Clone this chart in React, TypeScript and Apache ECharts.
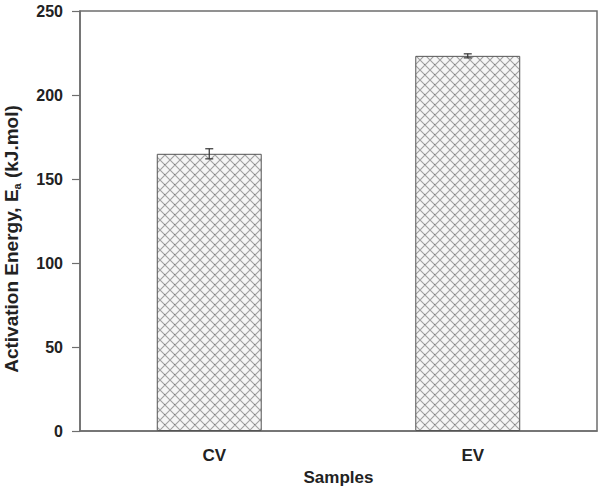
import React, { useEffect, useRef } from "react";
import * as echarts from "echarts";

const categories = ["CV", "EV"];
const energies = [165, 223.3];
const errors = [3, 1.2];
const yTicks = { min: 0, max: 250, interval: 50 };

function hatchTile(): HTMLCanvasElement {
  const c = document.createElement("canvas");
  const s = 10;
  c.width = s;
  c.height = s;
  const ctx = c.getContext("2d")!;
  ctx.fillStyle = "#f5f5f5";
  ctx.fillRect(0, 0, s, s);
  ctx.strokeStyle = "#a0a0a0";
  ctx.lineWidth = 1.1;
  ctx.beginPath();
  ctx.moveTo(0, 0);
  ctx.lineTo(s, s);
  ctx.moveTo(-s / 2, s / 2);
  ctx.lineTo(s / 2, s * 1.5);
  ctx.moveTo(s / 2, -s / 2);
  ctx.lineTo(s * 1.5, s / 2);
  ctx.moveTo(s, 0);
  ctx.lineTo(0, s);
  ctx.moveTo(s * 1.5, s / 2);
  ctx.lineTo(s / 2, s * 1.5);
  ctx.moveTo(s / 2, -s / 2);
  ctx.lineTo(-s / 2, s / 2);
  ctx.stroke();
  ctx.fillStyle = "#7a7a7a";
  ctx.fillRect(4, 4, 1, 1);
  return c;
}

export default function App() {
  const ref = useRef<HTMLDivElement>(null);
  useEffect(() => {
    if (!ref.current) return;
    const chart = echarts.init(ref.current, undefined, { renderer: "svg" });
    const font = "'Liberation Sans', Arial, sans-serif";
    const axisColor = "#6e6e6e";
    chart.setOption({
      animation: false,
      backgroundColor: "#ffffff",
      grid: {
        left: 80,
        right: 7,
        top: 11,
        bottom: 57,
        outerBoundsMode: "none",
        containLabel: false,
        show: true,
        borderColor: axisColor,
        borderWidth: 1.5,
      },
      xAxis: {
        type: "category",
        data: categories,
        axisLine: { show: true, lineStyle: { color: axisColor, width: 1.5 } },
        axisTick: { show: false },
        axisLabel: {
          fontFamily: font,
          fontWeight: "bold",
          fontSize: 17,
          color: "#222",
          margin: 16,
          padding: [0, 0, 0, 10],
        },
        name: "Samples",
        nameLocation: "middle",
        nameGap: 38,
        nameTextStyle: { fontFamily: font, fontWeight: "bold", fontSize: 17, color: "#222" },
      },
      yAxis: {
        type: "value",
        min: yTicks.min,
        max: yTicks.max,
        interval: yTicks.interval,
        splitLine: { show: false },
        axisLine: { show: true, lineStyle: { color: axisColor, width: 1.5 } },
        axisTick: { show: true, inside: false, length: 8, lineStyle: { color: axisColor, width: 1.2 } },
        axisLabel: {
          fontFamily: font,
          fontWeight: "bold",
          fontSize: 16,
          color: "#222",
          margin: 17,
        },
        name: "{m|Activation Energy, E}{s|a}{m| (kJ.mol)}",
        nameLocation: "middle",
        nameGap: 58,
        nameTextStyle: {
          padding: [0, 0, 0, -36],
          rich: {
            m: { fontFamily: font, fontWeight: "bold", fontSize: 19, color: "#222" },
            s: { fontFamily: font, fontWeight: "bold", fontSize: 11, color: "#222", verticalAlign: "bottom", padding: [10, 0, 0, 0] },
          },
        },
      },
      series: [
        {
          type: "bar",
          data: energies,
          barWidth: "40.6%",
          itemStyle: {
            color: { image: hatchTile(), repeat: "repeat" } as any,
            borderColor: "#555",
            borderWidth: 1,
          },
        },
        {
          type: "custom",
          data: energies.map((v, i) => [i, v, errors[i]]),
          renderItem: (_params: any, api: any) => {
            const x = api.value(0);
            const v = api.value(1);
            const e = api.value(2);
            const hi = api.coord([x, v + e]);
            const lo = api.coord([x, v - e]);
            const w = 4;
            const st = { stroke: "#333", lineWidth: 1.2 };
            return {
              type: "group",
              children: [
                { type: "line", shape: { x1: hi[0], y1: hi[1], x2: lo[0], y2: lo[1] }, style: st },
                { type: "line", shape: { x1: hi[0] - w, y1: hi[1], x2: hi[0] + w, y2: hi[1] }, style: st },
                { type: "line", shape: { x1: lo[0] - w, y1: lo[1], x2: lo[0] + w, y2: lo[1] }, style: st },
              ],
            };
          },
          z: 10,
        },
      ],
    });
    return () => chart.dispose();
  }, []);
  return <div ref={ref} style={{ width: 604, height: 488, position: "absolute", left: 0, top: 0 }} />;
}
